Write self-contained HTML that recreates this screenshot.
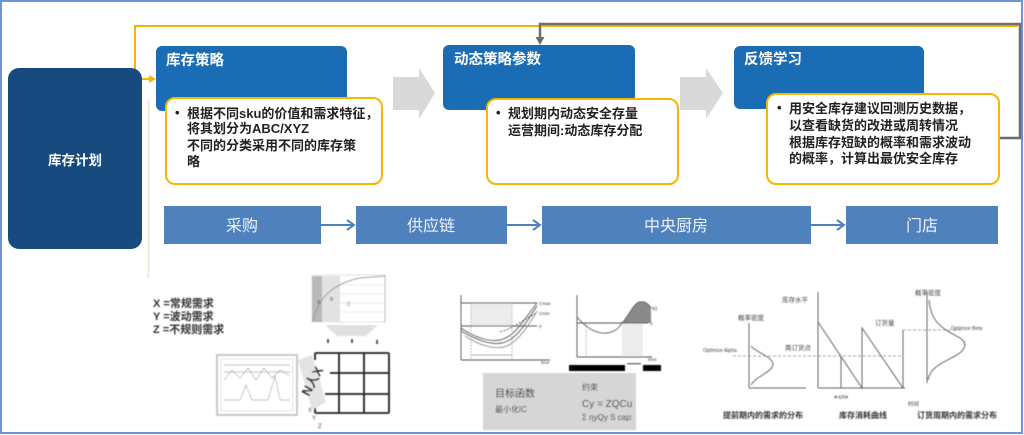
<!DOCTYPE html>
<html><head><meta charset="utf-8"><style>
html,body{margin:0;padding:0;background:#fff;}
svg{display:block;}
text{font-family:"Liberation Sans","Noto Sans CJK SC",sans-serif;}
</style></head><body>
<svg width="1024" height="435" viewBox="0 0 1024 435" xmlns="http://www.w3.org/2000/svg">
<defs>
<filter id="bl" x="-5%" y="-5%" width="110%" height="110%"><feGaussianBlur stdDeviation="0.5"/></filter>
</defs>
<rect x="0" y="0" width="1024" height="435" fill="#fff"/>
<!-- outer frame -->
<rect x="1" y="1" width="1021" height="432" fill="none" stroke="#6f93dc" stroke-width="2"/>

<!-- left faint vertical -->
<line x1="148.5" y1="100" x2="148.5" y2="278" stroke="#ece6cf" stroke-width="1.5"/>

<!-- yellow feedback line -->
<path d="M1018,26 H135 V79 H150" fill="none" stroke="#f2b600" stroke-width="2"/>
<path d="M149,75 L156,79 L149,83 Z" fill="#f2b600"/>

<!-- gray feedback line -->
<path d="M1000,138 H1020 V24 H540 V38" fill="none" stroke="#6d6d6d" stroke-width="2.5"/>
<path d="M535.5,37 L544.5,37 L540,45 Z" fill="#6d6d6d"/>

<!-- left dark box -->
<rect x="8" y="68" width="134" height="181" rx="11" fill="#174a7f"/>
<text x="75" y="165" fill="#fff" font-size="13.5" font-weight="bold" text-anchor="middle">库存计划</text>

<!-- headers -->
<rect x="156" y="46" width="191" height="65" rx="6" fill="#1a6cb5"/>
<text x="166" y="65" fill="#fff" font-size="14.5" font-weight="bold">库存策略</text>
<rect x="443" y="45" width="192" height="65" rx="6" fill="#1a6cb5"/>
<text x="454" y="64" fill="#fff" font-size="14.5" font-weight="bold">动态策略参数</text>
<rect x="734" y="46" width="190" height="63" rx="6" fill="#1a6cb5"/>
<text x="744" y="64" fill="#fff" font-size="14.5" font-weight="bold">反馈学习</text>

<!-- gray block arrows -->
<path d="M393,77 H419 V68 L435,93 L419,119 V110 H393 Z" fill="#d9d9d9"/>
<path d="M680,77 H706 V68 L723,93 L706,119 V110 H680 Z" fill="#d9d9d9"/>

<!-- yellow text boxes -->
<rect x="166" y="98" width="216" height="86" rx="9" fill="#fff" stroke="#f5b800" stroke-width="2"/>
<g font-size="13" font-weight="bold" fill="#222">
<text x="175" y="117">•</text>
<text x="187" y="118">根据不同sku的价值和需求特征，</text>
<text x="187" y="133">将其划分为ABC/XYZ</text>
<text x="187" y="150">不同的分类采用不同的库存策</text>
<text x="187" y="166">略</text>
</g>
<rect x="487" y="99" width="191" height="85" rx="9" fill="#fff" stroke="#f5b800" stroke-width="2"/>
<g font-size="13" font-weight="bold" fill="#222">
<text x="496" y="117">•</text>
<text x="508" y="118">规划期内动态安全存量</text>
<text x="508" y="135">运营期间:动态库存分配</text>
</g>
<rect x="767" y="94" width="232" height="90" rx="9" fill="#fff" stroke="#f5b800" stroke-width="2"/>
<g font-size="13" font-weight="bold" fill="#222">
<text x="777" y="112">•</text>
<text x="789" y="113">用安全库存建议回测历史数据，</text>
<text x="789" y="130">以查看缺货的改进或周转情况</text>
<text x="789" y="147">根据库存短缺的概率和需求波动</text>
<text x="789" y="163">的概率，计算出最优安全库存</text>
</g>

<!-- process bar -->
<g fill="#4f81bd">
<rect x="164" y="206" width="157" height="38"/>
<rect x="356" y="206" width="151" height="38"/>
<rect x="542" y="206" width="269" height="38"/>
<rect x="846" y="206" width="152" height="38"/>
</g>
<g stroke="#4f81bd" stroke-width="2" fill="none">
<line x1="321" y1="225" x2="353" y2="225"/><path d="M347,220 L354,225 L347,230"/>
<line x1="507" y1="225" x2="539" y2="225"/><path d="M533,220 L540,225 L533,230"/>
<line x1="811" y1="225" x2="843" y2="225"/><path d="M837,220 L844,225 L837,230"/>
</g>
<g font-size="16" fill="#eef3fa" text-anchor="middle">
<text x="242" y="231">采购</text>
<text x="431" y="231">供应链</text>
<text x="676" y="231">中央厨房</text>
<text x="922" y="231">门店</text>
</g>

<!-- ============ bottom left images ============ -->
<g filter="url(#bl)">
<g font-size="11" font-weight="bold" fill="#333">
<text x="153" y="307">X =常规需求</text>
<text x="153" y="320">Y =波动需求</text>
<text x="153" y="333">Z =不规则需求</text>
</g>
<!-- top chart -->
<rect x="312" y="275" width="73" height="47" fill="#fff" stroke="#ddd" stroke-width="0.8"/>
<rect x="312" y="276" width="28" height="46" fill="#e2e2e2"/>
<rect x="312" y="276" width="10" height="46" fill="#b9b9b9"/>
<g stroke="#e4e4e4" stroke-width="0.8">
<line x1="340" y1="285" x2="385" y2="285"/><line x1="340" y1="294" x2="385" y2="294"/>
<line x1="340" y1="303" x2="385" y2="303"/><line x1="340" y1="312" x2="385" y2="312"/>
</g>
<path d="M313,321 C318,300 330,284 360,278 L385,276" fill="none" stroke="#999" stroke-width="0.9"/>
<line x1="385" y1="275" x2="385" y2="322" stroke="#aaa" stroke-width="0.8"/>
<g font-size="5" fill="#444"><text x="317" y="304">A</text><text x="330" y="301">B</text><text x="347" y="306">C</text></g>
<path d="M325,325 H378 L366,336 H337 Z" fill="#e0e0e0"/>
<g fill="#555"><rect x="327" y="339" width="2" height="4"/><rect x="351" y="339" width="2" height="4"/><rect x="376" y="340" width="2" height="4"/></g>
<!-- grid -->
<g stroke="#222" stroke-width="1.8" fill="none">
<line x1="315" y1="353" x2="389" y2="353"/><line x1="315" y1="413" x2="389" y2="413"/>
<line x1="389" y1="353" x2="389" y2="413"/>
<line x1="339" y1="353" x2="339" y2="413"/><line x1="364" y1="353" x2="364" y2="413"/>
<line x1="330" y1="373" x2="389" y2="373"/><line x1="325" y1="394" x2="389" y2="394"/>
<line x1="315" y1="353" x2="315" y2="360"/><line x1="315" y1="405" x2="315" y2="413"/>
</g>
<!-- left chart box -->
<rect x="217" y="355" width="80" height="60" fill="#fff" stroke="#c8c8c8" stroke-width="2"/>
<rect x="221" y="359" width="72" height="52" fill="none" stroke="#ddd" stroke-width="0.8"/>
<g stroke="#aaa" stroke-width="0.7" fill="none">
<line x1="224" y1="365" x2="290" y2="365"/><line x1="224" y1="372" x2="290" y2="372"/>
<path d="M224,380 L232,370 L240,378 L248,368 L256,380 L264,368 L272,378 L280,370 L290,376"/>
<path d="M224,400 L240,400 L246,385 L252,400 L268,400 L275,376 L280,400 L290,400"/>
</g>
<!-- diagonal band -->
<path d="M298,360 L312,355 L326,402 L312,410 Z" fill="#e4e4e4"/>
<text x="0" y="0" font-size="13" font-weight="bold" fill="#333" transform="translate(309,397) rotate(-62)">N人X</text>
<g font-size="6" fill="#555"><text x="308" y="412">X</text><text x="312" y="420">Y</text><text x="318" y="428">Z</text></g>
</g>

<!-- ============ middle images ============ -->
<g filter="url(#bl)">
<!-- chart 1 -->
<rect x="471" y="303" width="41" height="24" fill="#ececec"/>
<g stroke="#555" stroke-width="0.9" fill="none">
<line x1="461" y1="295" x2="461" y2="360"/><line x1="461" y1="360" x2="550" y2="360"/>
<line x1="461" y1="303" x2="537" y2="303"/><line x1="461" y1="326" x2="537" y2="326"/>
<path d="M461,328 C475,338 490,342 500,340 C515,337 525,318 537,303"/>
<path d="M461,331 C478,341 492,345 502,343 C517,340 527,321 537,306"/>
<path d="M465,336 C480,346 494,349 504,347 C518,343 528,326 537,311" stroke="#888"/>
<path d="M500,332 C515,328 525,318 537,313" stroke-dasharray="2,1.5"/>
</g>
<g stroke="#888" stroke-width="0.7" stroke-dasharray="1.5,1.5"><line x1="471" y1="303" x2="471" y2="360"/><line x1="512" y1="303" x2="512" y2="360"/></g>
<line x1="471" y1="355" x2="512" y2="355" stroke="#666" stroke-width="0.6"/>
<g font-size="4.5" fill="#444"><text x="539" y="305">Cmax</text><text x="539" y="315">Cmin</text><text x="539" y="328">0</text><text x="541" y="364">time</text></g>
<!-- chart 2 -->
<rect x="622" y="323" width="21" height="33" fill="#ececec"/>
<path d="M622,323 C628,318 633,303 640,302 C646,301 649,305 651,308 L651,323 Z" fill="#8a8a8a"/>
<g stroke="#555" stroke-width="0.9" fill="none">
<line x1="577" y1="295" x2="577" y2="357"/><line x1="577" y1="357" x2="652" y2="357"/>
<line x1="577" y1="323" x2="648" y2="323"/>
<path d="M577,317 C588,330 598,334 607,333 C615,332 619,328 622,323 C628,318 633,303 640,302 C646,301 649,305 651,308"/>
</g>
<line x1="586" y1="323" x2="586" y2="357" stroke="#888" stroke-width="0.7" stroke-dasharray="1.5,1.5"/>
<g font-size="4.5" fill="#444"><text x="652" y="310">f(t)</text><text x="650" y="325">0</text><text x="648" y="361">time</text></g>
<rect x="569" y="365" width="56" height="6" fill="#000"/>
<rect x="643" y="365" width="18" height="6" fill="#000"/>
<rect x="627" y="363" width="14" height="1.5" fill="#777"/>
<!-- gray box -->
<rect x="483" y="373" width="153" height="57" fill="#d6d6d6"/>
<g fill="#333">
<text x="495" y="397" font-size="10">目标函数</text>
<text x="495" y="412" font-size="8">最小化IC</text>
<text x="582" y="390" font-size="8">约束</text>
<text x="582" y="407" font-size="10">Cy = ZQCu</text>
<text x="582" y="420" font-size="8">Σ ηyQy S cap:</text>
</g>
</g>

<!-- ============ right images ============ -->
<g filter="url(#bl)">
<g stroke="#666" stroke-width="1" fill="none">
<!-- left distribution -->
<line x1="749" y1="323" x2="749" y2="388"/><line x1="749" y1="388" x2="806" y2="388"/>
<path d="M751,346 C755,352 772,356 773,364 C773,372 756,376 751,385"/>
<!-- inventory -->
<line x1="818" y1="292" x2="818" y2="388"/><line x1="818" y1="388" x2="905" y2="388"/>
<path d="M818,322 L862,388 L862,328 L903,388"/>
<line x1="903" y1="330" x2="903" y2="388"/>
<line x1="841" y1="356" x2="841" y2="388"/>
<!-- right distribution -->
<line x1="927" y1="292" x2="927" y2="383"/>
<path d="M929,300 C931,325 946,330 960,338 C968,343 966,350 955,356 C940,364 930,368 928,380"/>
</g>
<g stroke="#888" stroke-width="0.8" stroke-dasharray="3,2">
<line x1="733" y1="356" x2="903" y2="356"/>
<line x1="903" y1="330" x2="963" y2="330"/>
</g>
<path d="M834,397 L848,397 M834,397 L837,395.5 M834,397 L837,398.5 M848,397 L845,395.5 M848,397 L845,398.5" stroke="#555" stroke-width="0.6" fill="none"/>
<g fill="#444" font-size="6.5">
<text x="738" y="320">概率密度</text>
<text x="782" y="302">库存水平</text>
<text x="785" y="350">再订货点</text>
<text x="875" y="325">订货量</text>
<text x="915" y="295">概率密度</text>
<text x="908" y="406" font-size="5.5">时间</text>
<text x="839" y="399" font-size="5">LT</text>
</g>
<g fill="#444" font-size="5">
<text x="703" y="352">Optimize Alpha</text>
<text x="951" y="330">Optimize Beta</text>
</g>
<g fill="#333" font-size="8" font-weight="bold" text-anchor="middle">
<text x="763" y="418">提前期内的需求的分布</text>
<text x="863" y="418">库存消耗曲线</text>
<text x="957" y="418">订货周期内的需求分布</text>
</g>
</g>
</svg>
</body></html>
